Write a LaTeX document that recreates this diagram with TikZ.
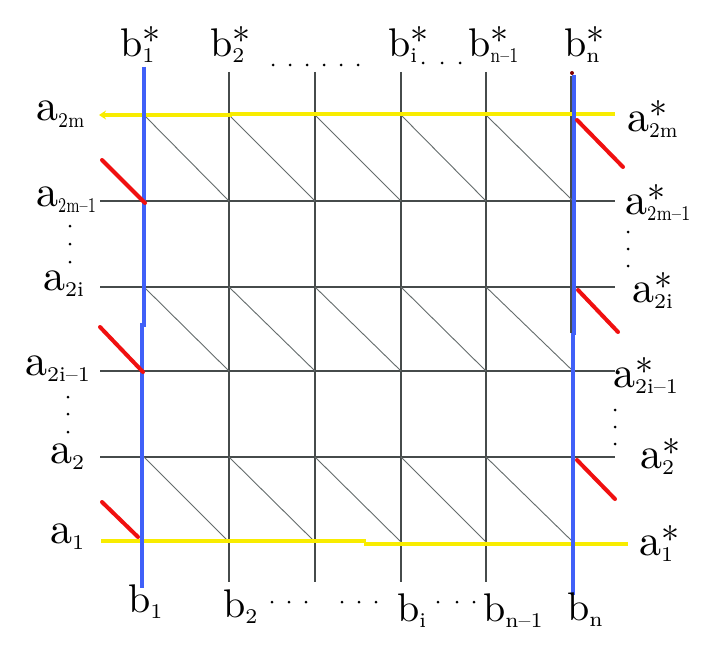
\documentclass[tikz,border=0pt]{standalone}
\usepackage{fontspec}
\usepackage{graphicx}
\newfontfamily\lmten{lmroman10-regular.otf}
\newfontfamily\lmsev{lmroman7-regular.otf}
\usetikzlibrary{arrows.meta}
\definecolor{ylw}{RGB}{248,236,0}
\definecolor{blu}{RGB}{64,96,248}
\definecolor{rd}{RGB}{240,16,16}
\definecolor{grd}{RGB}{70,75,75}
\definecolor{dgr}{RGB}{100,108,108}
\newcommand{\glab}[4][1]{#2\makebox[0pt][l]{\raisebox{3pt}{\lmten\fontsize{36}{36}\selectfont #4}}\raisebox{-6pt}{\scalebox{#1}[1]{\lmsev\fontsize{21}{21}\selectfont #3}}}
\begin{document}
\begin{tikzpicture}[x=1pt,y=-1pt,
  lab/.style={font=\lmten\fontsize{40}{48}\selectfont, inner sep=0pt, anchor=base west},
  alab/.style={font=\lmten\fontsize{44}{54}\selectfont, inner sep=0pt, anchor=base west},
  gridline/.style={draw=grd, line width=1.4pt},
  diagline/.style={draw=dgr, line width=0.9pt},
  yl/.style={draw=ylw, line width=4pt},
  bl/.style={draw=blu, line width=4pt},
  rl/.style={draw=rd, line width=4pt, line cap=round},
  dotm/.style={circle, fill=black, inner sep=0pt, minimum size=3pt}]
\useasboundingbox[fill=white] (0,0) rectangle (719,650);
% column / row coordinates
\foreach \x/\n in {144/1,229/2,315/3,401/4,486/5,573/6}{
  \coordinate (c\n) at (\x,0);}
\foreach \y/\n in {115/1,201/2,287/3,371/4,457/5,542/6}{
  \coordinate (r\n) at (0,\y);}
% horizontal grey grid lines
\foreach \n in {2,3,4,5}{
  \coordinate (hl\n) at (100,0 |- r\n);
  \coordinate (hr\n) at (615,0 |- r\n);
  \draw[gridline] (hl\n) -- (hr\n);}
% vertical black lines
\foreach \n in {2,3,4,5}{
  \coordinate (vt\n) at (c\n |- 0,72);
  \coordinate (vb\n) at (c\n |- 0,582);
  \draw[gridline] (vt\n) -- (vb\n);}
\draw[gridline] (571,76) -- (571,333);
% diagonals
\foreach \t/\b in {1/2,3/4,5/6}{
  \foreach \i/\j in {1/2,2/3,3/4,4/5,5/6}{
    \draw[diagline] (c\i |- r\t) -- (c\j |- r\b);}}
% yellow lines
\coordinate (y1a) at (232,115);
\coordinate (y1b) at (99,115);
\coordinate (y1c) at (230,114);
\coordinate (y1d) at (615,114);
\draw[yl, -{Stealth[length=7pt,width=9pt]}] (y1a) -- (y1b);
\draw[yl] (y1c) -- (y1d);
\coordinate (y6a) at (101,541);
\coordinate (y6b) at (366,541);
\coordinate (y6c) at (364,544);
\coordinate (y6d) at (628,544);
\draw[yl] (y6a) -- (y6b);
\draw[yl] (y6c) -- (y6d);
% blue lines
\coordinate (b1a) at (144,67);
\coordinate (b1b) at (144,327);
\coordinate (b1c) at (142,323);
\coordinate (b1d) at (142,588);
\draw[bl] (b1a) -- (b1b);
\draw[bl] (b1c) -- (b1d);
\coordinate (bna) at (574,75);
\coordinate (bnb) at (574,335);
\coordinate (bnc) at (573,333);
\coordinate (bnd) at (573,595);
\draw[bl] (bna) -- (bnb);
\draw[bl] (bnc) -- (bnd);
\fill[red!50!black] (572,73) circle (2pt);
% red segments
\draw[rl] (102,160) -- (145,203);
\draw[rl] (100,327) -- (143,372);
\draw[rl] (102,502) -- (138,537);
\draw[rl] (577,120) -- (623,167);
\draw[rl] (578,290) -- (618,332);
\draw[rl] (577,460) -- (615,499);
% left labels
\node[alab] (la1) at (36,121) {\glab[0.83]{a}{2m}{}};
\node[alab] (la2) at (36,206) {\glab[0.68]{a}{2m–1}{}};
\node[alab] (la3) at (43,290) {\glab{a}{2i}{}};
\node[alab] (la4) at (25,375) {\glab{a}{2i–1}{}};
\node[alab] (la5) at (50,463) {\glab{a}{2}{}};
\node[alab] (la6) at (50,543) {\glab{a}{1}{}};
\foreach \y [count=\k] in {226,244,262}{\node[dotm] (ld\k) at (70,\y) {};}
\foreach \y [count=\k] in {397,414,432}{\node[dotm] (le\k) at (68,\y) {};}
% right labels
\node[alab] (ra1) at (627,131) {\glab[0.9]{a}{2m}{*}};
\node[alab] (ra2) at (625,214) {\glab[0.78]{a}{2m–1}{*}};
\node[alab] (ra3) at (632,302) {\glab{a}{2i}{*}};
\node[alab] (ra4) at (613,387) {\glab{a}{2i–1}{*}};
\node[alab] (ra5) at (640,468) {\glab{a}{2}{*}};
\node[alab] (ra6) at (639,555) {\glab{a}{1}{*}};
\foreach \y [count=\k] in {232,249,266}{\node[dotm] (rd\k) at (628,\y) {};}
\foreach \y [count=\k] in {410,427,444}{\node[dotm] (re\k) at (615,\y) {};}
% top labels
\node[lab] (tb1) at (120,57) {\glab{b}{1}{*}};
\node[lab] (tb2) at (210,57) {\glab{b}{2}{*}};
\node[lab] (tb3) at (388,57) {\glab{b}{i}{*}};
\node[lab] (tb4) at (468,57) {\glab[0.75]{b}{n–1}{*}};
\node[lab] (tb5) at (564,57) {\glab{b}{n}{*}};
\foreach \x [count=\k] in {273,290,307,324,341,358}{\node[dotm] (td\k) at (\x,65) {};}
\foreach \x [count=\k] in {423,442,460}{\node[dotm] (te\k) at (\x,63) {};}
% bottom labels
\node[lab] (bb1) at (128,612) {\glab{b}{1}{}};
\node[lab] (bb2) at (223,617) {\glab{b}{2}{}};
\node[lab] (bb3) at (397,621) {\glab{b}{i}{}};
\node[lab] (bb4) at (483,621) {\glab{b}{n–1}{}};
\node[lab] (bb5) at (567,620) {\glab{b}{n}{}};
\foreach \x [count=\k] in {272,289,306,342,359,376}{\node[dotm] (bd\k) at (\x,602) {};}
\foreach \x [count=\k] in {438,457,474}{\node[dotm] (be\k) at (\x,602) {};}
\end{tikzpicture}
\end{document}
